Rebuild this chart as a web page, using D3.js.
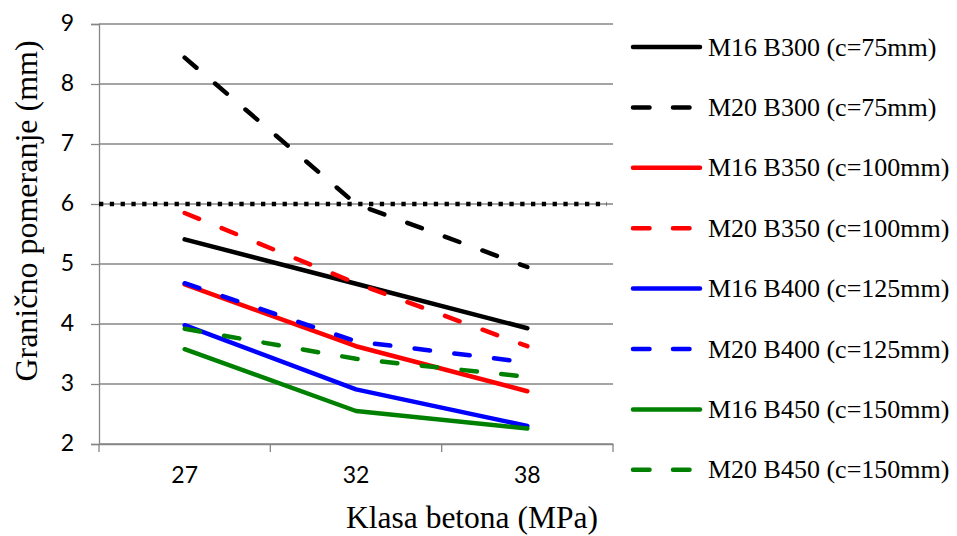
<!DOCTYPE html>
<html><head><meta charset="utf-8">
<script src="https://cdn.jsdelivr.net/npm/d3@7"></script>
<style>body{margin:0;background:#fff}svg{display:block}</style>
</head><body>
<svg id="c" width="957" height="536"></svg>
<script>
const categories = ["27", "32", "38"];
const yTicks = [2, 3, 4, 5, 6, 7, 8, 9];
const seriesNames = ["M16 B300 (c=75mm)", "M20 B300 (c=75mm)", "M16 B350 (c=100mm)", "M20 B350 (c=100mm)",
  "M16 B400 (c=125mm)", "M20 B400 (c=125mm)", "M16 B450 (c=150mm)", "M20 B450 (c=150mm)"];
const m16b300 = [5.41, 4.67, 3.93];
const m20b300 = [8.44, 6.0, 4.95];
const m16b350 = [4.66, 3.63, 2.88];
const m20b350 = [5.85, 4.68, 3.63];
const m16b400 = [3.98, 2.91, 2.30];
const m20b400 = [4.68, 3.71, 3.36];
const m16b450 = [3.58, 2.55, 2.26];
const m20b450 = [3.92, 3.42, 3.12];
const limitValue = 6;
const seriesValues = [m16b300, m20b300, m16b350, m20b350, m16b400, m20b400, m16b450, m20b450];
const seriesColors = ["#000000", "#000000", "#ff0000", "#ff0000", "#0000ff", "#0000ff", "#008000", "#008000"];
const seriesDashed = [false, true, false, true, false, true, false, true];

const svg = d3.select("#c");
const L = 99, R = 613, T = 24, B = 444;
const x = d3.scaleBand().domain(categories).range([L, R]);
const y = d3.scaleLinear().domain([2, 9]).range([B, T]);
const grey = "#868686";
const sans = "Lato, 'Open Sans', sans-serif";
const serif = "'Liberation Serif', 'Times New Roman', serif";

// gridlines
svg.append("g").selectAll("line").data(yTicks).join("line")
  .attr("x1", L).attr("x2", R).attr("y1", d => y(d)).attr("y2", d => y(d))
  .attr("stroke", grey).attr("stroke-width", 1.3);

// y axis
const ya = svg.append("g").attr("transform", `translate(${L},0)`)
  .call(d3.axisLeft(y).tickValues(yTicks).tickFormat(d3.format("d")).tickSize(8).tickPadding(17));
ya.select(".domain").attr("stroke", grey).attr("stroke-width", 1.3);
ya.selectAll(".tick line").attr("stroke", grey).attr("stroke-width", 1.3);
ya.selectAll("text").attr("font-family", sans).attr("font-size", 23).attr("fill", "#000").attr("dy", "0.3em");

// x axis
const xa = svg.append("g").attr("transform", `translate(0,${B})`)
  .call(d3.axisBottom(x).tickSize(0).tickPadding(23));
xa.select(".domain").attr("stroke", grey).attr("stroke-width", 1.3);
xa.selectAll("text").attr("font-family", sans).attr("font-size", 23).attr("fill", "#000");
const bounds = [L, ...categories.map(c => x(c) + x.bandwidth())];
svg.append("g").selectAll("line").data(bounds).join("line")
  .attr("x1", d => d).attr("x2", d => d).attr("y1", B).attr("y2", B + 8)
  .attr("stroke", grey).attr("stroke-width", 1.3);

// limit dotted line
svg.append("line").attr("x1", L).attr("x2", R - 6).attr("y1", y(limitValue)).attr("y2", y(limitValue))
  .attr("stroke", "#000").attr("stroke-width", 4.3).attr("stroke-dasharray", "4.3,6.5");

// series
const line = d3.line().x((d, i) => x(categories[i]) + x.bandwidth() / 2).y(d => y(d));
seriesValues.forEach((vals, k) => {
  svg.append("path").datum(vals).attr("d", line)
    .attr("fill", "none").attr("stroke", seriesColors[k]).attr("stroke-width", 4.5)
    .attr("stroke-linecap", "round").attr("stroke-linejoin", "round")
    .attr("stroke-dasharray", seriesDashed[k] ? "15.5,24.5" : null);
});

// legend
const lg = svg.append("g");
seriesNames.forEach((name, k) => {
  const yy = 47 + k * 60.4;
  lg.append("line").attr("x1", 633).attr("x2", 700).attr("y1", yy).attr("y2", yy)
    .attr("stroke", seriesColors[k]).attr("stroke-width", 4.5).attr("stroke-linecap", "round")
    .attr("stroke-dasharray", seriesDashed[k] ? "16.5,23.5" : null);
  lg.append("text").attr("x", 708).attr("y", yy).attr("dy", "0.33em")
    .attr("font-family", serif).attr("font-size", 26)
    .attr("fill", "#000").text(name);
});

// axis titles
svg.append("text").attr("x", 472).attr("y", 528).attr("text-anchor", "middle")
  .attr("font-family", serif).attr("font-size", 31.5).attr("fill", "#000")
  .text("Klasa betona (MPa)");
svg.append("text").attr("transform", `translate(37,211) rotate(-90)`).attr("text-anchor", "middle")
  .attr("font-family", serif).attr("font-size", 32).attr("fill", "#000")
  .text("Granično pomeranje (mm)");
</script>
</body></html>
